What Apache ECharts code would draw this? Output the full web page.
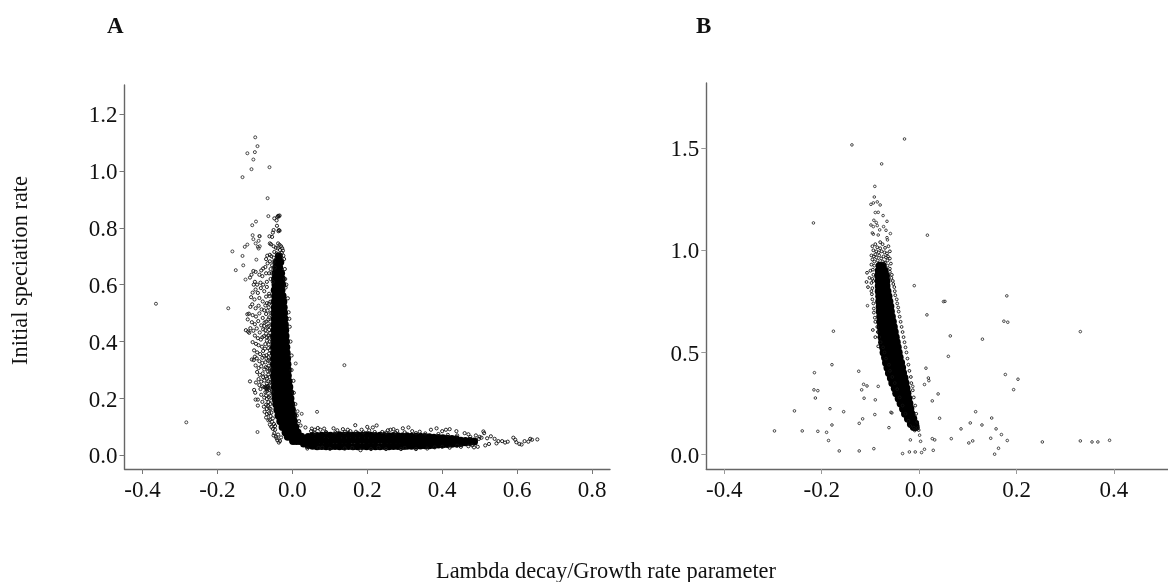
<!DOCTYPE html>
<html><head><meta charset="utf-8">
<style>html,body{margin:0;background:#fff}#c{width:1168px;height:582px}</style>
<script src="https://cdn.jsdelivr.net/npm/echarts@6/dist/echarts.min.js"></script></head>
<body><div id="c"></div>
<script>
const xTicksA=[-0.4,-0.2,0,0.2,0.4,0.6,0.8];
const yTicksA=[0,0.2,0.4,0.6,0.8,1.0,1.2];
const xTicksB=[-0.4,-0.2,0,0.2,0.4];
const yTicksB=[0,0.5,1.0,1.5];
const panelTitles=['A','B'];
const xTitle='Lambda decay/Growth rate parameter';
const yTitle='Initial speciation rate';

// Panel A: isolated points
const outliersA=[[-.364,.533],[-.171,.517],[-.283,.116],[-.197,.006],[.009,.323],[.139,.317],[.066,.153],[.014,.155],[.025,.146],[-.093,.082],
[-.099,1.118],[-.093,1.087],[-.12,1.062],[-.1,1.066],[-.104,1.04],[-.109,1.006],[-.061,1.013],[-.133,.978],[-.066,.904],[-.064,.841],
[-.097,.822],[-.107,.809],[-.106,.774],[-.088,.771],[-.087,.77],[-.104,.76],[-.09,.754],[-.098,.745],[-.12,.741],[-.127,.733],[-.092,.733],[-.087,.735],[-.09,.727],
[-.16,.717],[-.133,.701],[-.131,.668],[-.151,.651],[-.125,.618],[-.096,.688]];
// Panel A: loose points around the upper arm
const upperFringeA=[[-.038,.842],[-.036,.84],[-.034,.843],[-.04,.838],[-.048,.833],[-.042,.826],[-.041,.807],[-.036,.792],[-.034,.79],[-.037,.788],[-.05,.792],[-.052,.783],[-.061,.77],[-.054,.768],[-.06,.745],[-.057,.742],[-.05,.735],[-.038,.745],[-.034,.74],[-.03,.735],[-.027,.728],[-.025,.72],[-.044,.73],[-.039,.728],[-.033,.722],[-.048,.715],[-.042,.71],[-.028,.712],[-.024,.702],[-.06,.705],[-.067,.702],[-.07,.69],[-.056,.7],[-.05,.695],[-.022,.69],[-.06,.682],[-.066,.675],[-.072,.662],[-.078,.657],[-.083,.65],[-.054,.668],[-.058,.655],[-.062,.64],[-.07,.64],[-.08,.63],[-.088,.635],[-.098,.645],[-.104,.648],[-.109,.635],[-.113,.625],[-.1,.61],[-.094,.6],[-.085,.607],[-.078,.6],[-.068,.61],[-.058,.62],[-.02,.655],[-.019,.62],[-.018,.59],[-.05,.68],[-.047,.66],[-.055,.64],[-.052,.61],
[-.103,.6],[-.098,.583],[-.106,.572],[-.11,.556],[-.101,.548],[-.092,.571],[-.084,.588],[-.075,.577],[-.068,.592],[-.062,.568],[-.088,.553],[-.079,.541],[-.07,.558],[-.062,.533],[-.107,.531],[-.112,.522],[-.098,.517],[-.09,.526],[-.082,.513],[-.072,.527],[-.066,.509],[-.12,.496],[-.116,.498],[-.119,.478],[-.106,.493],[-.097,.488],[-.088,.499],[-.079,.483],[-.07,.497],[-.064,.478],[-.108,.468],[-.1,.461],[-.091,.472],[-.083,.457],[-.074,.467],[-.066,.452],[-.112,.447],[-.124,.44],[-.118,.435],[-.115,.431],[-.104,.438],[-.095,.446],[-.087,.432],[-.078,.443],[-.07,.428],[-.062,.441],[-.1,.421],[-.092,.412],[-.084,.407],[-.076,.419],[-.068,.403],[-.061,.414],[-.106,.398],[-.097,.392],[-.09,.387],[-.081,.382],[-.072,.391],[-.064,.377],[-.102,.369],[-.094,.362],[-.086,.356],[-.078,.367],[-.069,.352],[-.062,.358],[-.1,.347],[-.108,.337],[-.103,.335],[-.095,.341],[-.088,.331],[-.08,.343],[-.072,.327],[-.064,.333],[-.098,.316],[-.09,.307],[-.083,.313],[-.075,.302],[-.067,.308],[-.094,.293],[-.087,.283],[-.079,.288],[-.071,.277],[-.064,.284],[-.09,.268],[-.083,.259],[-.075,.263],[-.068,.252],[-.113,.26],[-.097,.256],[-.088,.247],[-.08,.243],[-.072,.238],[-.065,.244],[-.085,.233],[-.07,.236],[-.072,.222],[-.068,.225],[-.102,.23],[-.099,.22],[-.098,.196],[-.092,.196],[-.092,.175],[-.076,.171],[-.083,.213],[-.075,.203],[-.068,.198],[-.08,.188],[-.07,.178],[-.064,.187],[-.074,.153],[-.068,.163],[-.062,.148],[-.07,.133],[-.064,.123],[-.058,.138],[-.06,.108],[-.054,.118],[-.052,.093],[-.048,.078],[-.044,.066],[-.04,.053],[-.033,.05],[-.046,.103],[-.038,.073],[-.03,.063],[-.058,.163],[-.056,.193],[-.055,.223],[-.058,.258],[-.06,.298],
[-.012,.552],[-.01,.503],[-.007,.452],[-.005,.4],[-.002,.351],[-.002,.3],[.003,.262],[.004,.22],[.008,.18],[.012,.14],[.018,.12],[.022,.105],[-.016,.6],[-.008,.48],
[-.061,.56],[-.059,.54],[-.063,.52],[-.058,.5],[-.062,.485],[-.059,.47],[-.063,.455],[-.059,.43],[-.064,.42],[-.06,.4],[-.063,.39],[-.06,.37],[-.064,.345],[-.06,.33],[-.063,.315],[-.059,.305],[-.065,.295],[-.061,.275],[-.064,.26],[-.06,.245],[-.062,.23],[-.06,.21],[-.063,.205],[-.059,.18],[-.056,.15],[-.052,.13],[-.049,.11],[-.046,.09],[-.07,.47],[-.072,.44],[-.068,.415],[-.073,.375],[-.069,.34],[-.071,.31],[-.068,.27],[-.07,.21],[-.068,.145],[-.075,.51],[-.068,.535],[-.075,.455],[-.08,.415],[-.076,.35],[-.08,.325],[-.075,.24],[-.078,.275],
[-.07,.242],[-.069,.236],[-.066,.24],[-.067,.232],[-.063,.236],[-.065,.175],[-.061,.165],[-.06,.125],[-.056,.1],[-.05,.07],[-.042,.06],[-.036,.045]];
// Panel A: loose points around the horizontal arm
const lowerFringeA=[[.035,.098],[.05,.085],[.052,.094],[.06,.09],[.068,.096],[.075,.09],[.085,.094],[.11,.095],[.12,.088],[.135,.092],[.148,.09],[.168,.106],[.155,.085],[.185,.09],[.2,.1],[.205,.088],[.215,.098],[.225,.105],[.24,.082],[.255,.088],[.262,.09],[.27,.092],[.28,.086],[.295,.095],[.31,.098],[.32,.085],[.34,.083],[.37,.09],[.385,.095],[.4,.085],[.41,.09],[.42,.092],[.438,.085],[.46,.078],[.47,.074],[.51,.084],[.512,.078],
[.04,.024],[.07,.026],[.1,.023],[.14,.024],[.182,.018],[.21,.022],[.25,.022],[.29,.022],[.33,.022],[.36,.024],[.42,.027],[.45,.03],[.47,.032],
[.5,.065],[.505,.062],[.515,.035],[.52,.06],[.525,.04],[.53,.067],[.54,.058],[.55,.05],[.56,.05],[.568,.045],[.575,.048],[.59,.062],[.595,.055],[.598,.046],[.606,.04],[.612,.038],[.62,.05],[.63,.048],[.635,.058],[.64,.055],[.654,.056],[.49,.07],[.485,.028],[.495,.03],[.545,.042],
[.06,.08],[.09,.082],[.115,.081],[.14,.082],[.17,.083],[.19,.081],[.22,.082],[.25,.08],[.275,.08],[.3,.081],[.33,.078],[.355,.077],[.39,.075],[.415,.072],[.44,.07],[.475,.065],[.498,.058],[.48,.035],[.44,.034],[.4,.03],[.38,.028],[.3,.026],[.23,.027],[.16,.026],[.08,.027]];
// Panel A: solid core, rows of [y, x, x, ...]
const coreRowsA=[[.70,-.036],[.68,-.041,-.032],[.66,-.043,-.035],[.64,-.045,-.036,-.03],[.62,-.046,-.037,-.028],[.60,-.045,-.036,-.027],[.58,-.047,-.038,-.029],[.56,-.046,-.037,-.028,-.026],[.54,-.047,-.038,-.029,-.024],[.52,-.047,-.039,-.03,-.023],[.50,-.048,-.039,-.03,-.022],[.48,-.047,-.038,-.029,-.021],[.46,-.048,-.04,-.031,-.02],[.44,-.048,-.039,-.03,-.021,-.019],[.42,-.049,-.04,-.031,-.022,-.018],[.40,-.048,-.039,-.03,-.021,-.017],[.38,-.049,-.04,-.031,-.022,-.016],[.36,-.049,-.04,-.031,-.023,-.015],[.34,-.049,-.04,-.032,-.023,-.014],[.32,-.049,-.04,-.031,-.022,-.013],[.30,-.049,-.04,-.032,-.023,-.012],[.28,-.049,-.04,-.031,-.022,-.012],[.26,-.048,-.039,-.03,-.021,-.01],[.24,-.047,-.038,-.03,-.021,-.012,-.008],[.22,-.046,-.037,-.028,-.019,-.01,-.006],[.20,-.045,-.036,-.027,-.018,-.009,-.005],[.18,-.043,-.034,-.025,-.016,-.007,-.003],[.16,-.04,-.031,-.022,-.013,-.004,-.001],[.14,-.037,-.028,-.019,-.01,-.001,.002],[.12,-.032,-.023,-.014,-.005,.004],[.10,-.026,-.017,-.008,.001,.008],[.08,-.018,-.009,0,.009,.014],[.065,-.012,-.003,.006,.015,.024],[.05,.002,.011,.02,.03]];
// Panel A: horizontal arm of the core, columns of [x, y, y, ...]
const coreColumnsA=[[.03,.04,.056],[.042,.035,.052,.066],[.054,.032,.05,.07],[.066,.03,.05,.07],[.078,.031,.051,.071],[.09,.03,.05,.072],[.102,.03,.05,.071],[.114,.031,.052,.07],[.126,.03,.05,.072],[.138,.03,.051,.071],[.15,.031,.05,.072],[.162,.03,.052,.071],[.174,.03,.05,.072],[.186,.031,.052,.071],[.198,.03,.05,.072],[.21,.031,.051,.071],[.222,.03,.05,.07],[.234,.03,.052,.071],[.246,.031,.05,.07],[.258,.03,.051,.069],[.27,.031,.05,.07],[.282,.031,.051,.069],[.294,.031,.05,.068],[.306,.032,.051,.069],[.318,.032,.05,.067],[.33,.032,.05,.067],[.342,.033,.051,.067],[.354,.034,.05,.066],[.366,.034,.05,.065],[.378,.035,.05,.064],[.39,.036,.05,.063],[.402,.037,.051,.062],[.414,.038,.052,.06],[.426,.039,.053,.059],[.438,.04,.053,.058],[.45,.042,.053],[.462,.044,.052],[.474,.045,.052],[.486,.047,.05]];

// Panel B: isolated points
const outliersB=[[-.03,1.545],[-.138,1.516],[-.077,1.423],[-.091,1.313],[-.092,1.261],[-.086,1.237],[-.094,1.232],[-.099,1.225],[-.08,1.222],[-.09,1.185],[-.084,1.186],[-.074,1.17],[-.217,1.134],[-.093,1.147],[-.088,1.136],[-.066,1.142],[-.099,1.124],[-.086,1.121],[-.094,1.116],[-.073,1.116],[-.081,1.1],[-.068,1.098],[-.096,1.085],[-.094,1.079],[-.059,1.082],[-.084,1.075],[.017,1.074],[-.066,1.062],[-.065,1.051],
[-.01,.827],[.053,.75],[.05,.749],[-.106,.729],[.016,.684],[.064,.581],[.13,.565],[-.176,.604],[.06,.481],[-.179,.44],[-.215,.401],[-.124,.408],[.014,.423],[.019,.375],[.02,.362],[.011,.343],[-.013,.334],[-.114,.344],[-.107,.336],[-.084,.334],[-.118,.317],[-.216,.317],[-.208,.313],[-.213,.277],[-.113,.276],[-.09,.268],[.039,.297],[.027,.263],[-.183,.225],[-.256,.214],[-.155,.21],[-.091,.196],[-.058,.207],[-.056,.204],[-.116,.175],[-.123,.153],[-.179,.145],[-.062,.132],[.042,.178],[.116,.21],[.105,.155],[.129,.145],[.149,.179],[.086,.126],[.158,.126],[-.297,.116],[-.24,.116],[-.208,.114],[-.19,.109],[-.186,.069],[-.164,.018],[-.123,.018],[-.093,.029],[-.034,.005],[-.02,.013],[-.008,.013],[.005,.01],[.011,.026],[.029,.021],[-.018,.072],[.003,.065],[.001,.095],[.027,.078],[.032,.072],[.066,.078],[.11,.067],[.102,.057],[.147,.08],[.155,.002],[.163,.031],
[.18,.777],[.174,.653],[.182,.648],[.331,.602],[.177,.392],[.203,.369],[.194,.318],[.169,.098],[.181,.069],[.253,.062],[.331,.067],[.355,.062],[.367,.062],[.391,.07]];
// Panel B: loose points around the dense body
const fringeB=[[-.08,1.04],[-.075,1.03],[-.09,1.03],[-.096,1.02],[-.086,1.015],[-.08,1.01],[-.07,1.012],[-.063,1.02],[-.094,1.0],[-.088,.995],[-.083,.99],[-.077,.995],[-.071,.99],[-.066,.985],[-.06,.995],[-.098,.975],[-.093,.97],[-.09,.98],[-.068,.965],[-.064,.97],[-.06,.96],[-.096,.955],[-.092,.945],[-.07,.94],[-.065,.95],[-.098,.93],[-.092,.925],[-.065,.925],[-.058,.935],[-.06,.91],[-.107,.89],[-.1,.9],[-.095,.905],[-.094,.88],[-.06,.895],[-.056,.88],[-.102,.865],[-.096,.86],[-.057,.865],[-.054,.85],[-.108,.845],[-.098,.84],[-.094,.85],[-.053,.835],[-.105,.82],[-.096,.815],[-.051,.82],[-.098,.8],[-.05,.8],[-.049,.78],[-.097,.785],[-.096,.76],[-.046,.76],[-.045,.74],[-.094,.74],[-.093,.715],[-.043,.72],[-.093,.695],[-.042,.7],[-.091,.67],[-.04,.675],[-.09,.65],[-.038,.65],[-.095,.61],[-.086,.625],[-.036,.625],[-.085,.6],[-.034,.6],[-.09,.575],[-.082,.575],[-.032,.575],[-.079,.55],[-.03,.55],[-.084,.53],[-.074,.525],[-.028,.525],[-.071,.5],[-.026,.5],[-.068,.47],[-.024,.47],[-.062,.44],[-.022,.44],[-.06,.41],[-.02,.41],[-.055,.38],[-.017,.38],[-.05,.35],[-.016,.35],[-.045,.32],[-.013,.315],[-.04,.28],[-.011,.28],[-.034,.24],[-.008,.24],[-.028,.2],[-.006,.2],[-.022,.165],[-.004,.16],[-.018,.14],[-.011,.132],[-.003,.13],[-.001,.12],[-.009,.118],
[-.088,.965],[-.082,.975],[-.078,.96],[-.073,.97],[-.085,.95],[-.075,.945]];
// Panel B: solid core, rows of [y, x, x, ...]
const coreRowsB=[[.925,-.081,-.075],[.90,-.083,-.075,-.071],[.875,-.084,-.076,-.068],[.85,-.083,-.075,-.067],[.825,-.083,-.075,-.067],[.80,-.083,-.075,-.067,-.065],[.775,-.082,-.074,-.066,-.063],[.75,-.082,-.074,-.066,-.061],[.725,-.081,-.073,-.065,-.059],[.70,-.081,-.073,-.065,-.058],[.675,-.08,-.072,-.064,-.056],[.65,-.08,-.072,-.064,-.056,-.054],[.625,-.079,-.071,-.063,-.055,-.052],[.60,-.078,-.07,-.062,-.054,-.05],[.575,-.077,-.069,-.061,-.053,-.048],[.55,-.076,-.068,-.06,-.052,-.046],[.525,-.074,-.066,-.058,-.05,-.044],[.50,-.073,-.065,-.057,-.049,-.042],[.475,-.07,-.062,-.054,-.046,-.04],[.45,-.068,-.06,-.052,-.044,-.037],[.425,-.065,-.057,-.049,-.041,-.035],[.40,-.062,-.054,-.046,-.038,-.033],[.375,-.058,-.05,-.042,-.034,-.03],[.35,-.055,-.047,-.039,-.031,-.028],[.325,-.05,-.042,-.034,-.026],[.30,-.047,-.039,-.031,-.024],[.275,-.042,-.034,-.026,-.022],[.25,-.038,-.03,-.022,-.02],[.225,-.033,-.025,-.018],[.20,-.029,-.021,-.016],[.175,-.023,-.016,-.012],[.15,-.017,-.011,-.008],[.135,-.011,-.007]];

const rowsToPoints=r=>r.flatMap(([y,...xs])=>xs.map(x=>[x,y]));
const colsToPoints=c=>c.flatMap(([x,...ys])=>ys.map(y=>[x,y]));

const serif='"Liberation Serif","Times New Roman",serif';
const hollow={color:'rgba(255,255,255,0)',borderColor:'#111',borderWidth:.9,opacity:1};
const lone={color:'rgba(255,255,255,0)',borderColor:'#333',borderWidth:.9,opacity:1};
const solid={color:'#000',opacity:1};
const sc=(i,data,size,style)=>({type:'scatter',xAxisIndex:i,yAxisIndex:i,data,symbolSize:size,itemStyle:style,silent:true,animation:false,progressive:0});
const ax=(i,min,max,ticks,position,tickColor)=>({type:'value',gridIndex:i,min,max,position,splitLine:{show:false},
  axisLine:{show:true,onZero:false,lineStyle:{color:'#666',width:1.4}},
  axisTick:{show:true,length:5,customValues:ticks,lineStyle:{color:tickColor,width:1}},
  axisLabel:Object.assign({show:true,margin:position==='bottom'?10:7,customValues:ticks,color:'#111',fontFamily:serif,fontSize:23,formatter:v=>v.toFixed(1),showMinLabel:true,showMaxLabel:true},
    position==='left'?{verticalAlign:'top',lineHeight:4}:{})});

const chart=echarts.init(document.getElementById('c'),null,{renderer:'canvas'});
chart.setOption({
  backgroundColor:'#fff',animation:false,
  grid:[{left:124.5,top:85,width:485.5,height:384},{left:706.3,top:83,width:461.7,height:386}],
  xAxis:[ax(0,-0.448,0.848,xTicksA,'bottom','#777'),ax(1,-0.437,0.511,xTicksB,'bottom','#999')],
  yAxis:[ax(0,-0.048,1.302,yTicksA,'left','#777'),ax(1,-0.0705,1.819,yTicksB,'left','#999')],
  series:[
    sc(0,rowsToPoints(coreRowsA),8,solid),
    sc(0,colsToPoints(coreColumnsA),7,solid),
    sc(0,upperFringeA,3.2,hollow),
    sc(0,lowerFringeA,3.2,hollow),
    sc(0,outliersA,3,lone),
    sc(1,rowsToPoints(coreRowsB),8,solid),
    sc(1,fringeB,2.8,hollow),
    sc(1,outliersB,2.6,lone)
  ],
  graphic:[
    {type:'text',left:107,top:16,style:{text:panelTitles[0],font:'bold 23px '+serif,fill:'#111'}},
    {type:'text',left:696,top:16,style:{text:panelTitles[1],font:'bold 23px '+serif,fill:'#111'}},
    {type:'text',x:606,y:572,style:{text:xTitle,font:'22.4px '+serif,fill:'#111',align:'center',verticalAlign:'middle'}},
    {type:'text',x:21,y:270.5,rotation:Math.PI/2,style:{text:yTitle,font:'22.4px '+serif,fill:'#111',align:'center',verticalAlign:'middle'}}
  ]
});
</script></body></html>
